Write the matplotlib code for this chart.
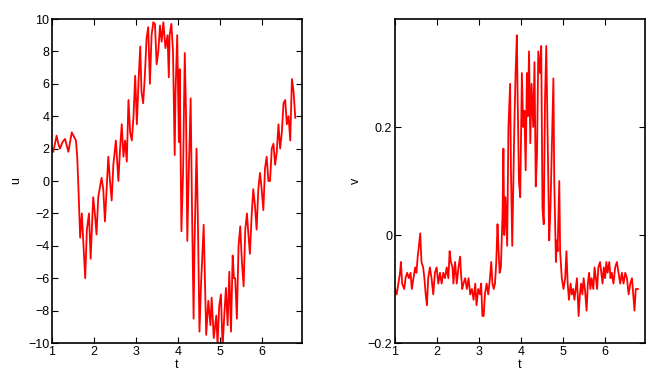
import matplotlib
matplotlib.use("Agg")
import matplotlib.pyplot as plt

# ---- left panel: u(t) ----
t_u = [1.00, 1.03, 1.11, 1.15, 1.19, 1.25, 1.31, 1.35, 1.39, 1.43, 1.47, 1.51, 1.57, 1.60,
       1.63, 1.67, 1.71, 1.75, 1.79, 1.83, 1.88, 1.92, 1.98, 2.02, 2.06, 2.10, 2.18, 2.22,
       2.26, 2.34, 2.38, 2.42, 2.46, 2.52, 2.58, 2.62, 2.66, 2.70, 2.74, 2.78, 2.82, 2.86,
       2.90, 2.94, 2.98, 3.02, 3.06, 3.10, 3.13, 3.17, 3.21, 3.25, 3.29, 3.33, 3.37, 3.41,
       3.45, 3.49, 3.53, 3.57, 3.61, 3.65, 3.70, 3.75, 3.78, 3.80, 3.84, 3.88, 3.92, 3.94,
       3.98, 4.02, 4.04, 4.08, 4.12, 4.16, 4.19, 4.22, 4.25, 4.30, 4.33, 4.37, 4.39, 4.44,
       4.47, 4.51, 4.55, 4.61, 4.65, 4.67, 4.72, 4.77, 4.80, 4.85, 4.91, 4.94, 4.98, 5.02,
       5.06, 5.10, 5.14, 5.18, 5.22, 5.26, 5.30, 5.33, 5.36, 5.40, 5.44, 5.48, 5.52, 5.56,
       5.60, 5.64, 5.68, 5.71, 5.75, 5.79, 5.83, 5.87, 5.91, 5.95, 5.99, 6.03, 6.07, 6.11,
       6.15, 6.19, 6.23, 6.27, 6.31, 6.35, 6.39, 6.43, 6.47, 6.51, 6.55, 6.59, 6.63, 6.67,
       6.71, 6.75, 6.79]
u_vals = [2.0, 1.8, 2.8, 2.3, 2.0, 2.4, 2.6, 2.2, 1.8, 2.4, 3.0, 2.8, 2.5, 1.5,
          -0.5, -3.5, -2.0, -4.0, -6.0, -3.0, -2.0, -4.8, -1.0, -2.0, -3.3, -1.0, 0.2, -0.5,
          -2.5, 1.5, 0.0, -1.2, 1.0, 2.5, 0.0, 2.0, 3.5, 1.5, 2.5, 1.2, 5.0, 3.0,
          2.5, 4.0, 6.5, 3.5, 6.2, 8.3, 5.5, 4.8, 6.5, 8.8, 9.5, 6.0, 9.0, 9.8,
          9.7, 7.2, 8.0, 9.6, 8.6, 9.8, 8.2, 9.0, 6.4, 9.0, 9.7, 8.0, 1.6, 5.5,
          9.0, 2.4, 6.9, -3.1, 0.6, 7.9, 4.1, -3.7, 0.0, 5.1, -1.3, -8.5, -4.2, 2.0,
          -2.1, -9.3, -6.2, -2.7, -7.2, -9.5, -7.4, -8.9, -7.2, -9.7, -8.3, -10.1, -7.7, -7.0,
          -10.3, -8.3, -6.6, -8.9, -5.6, -9.3, -4.6, -6.0, -6.0, -8.5, -4.0, -2.8, -5.0, -6.5,
          -3.0, -2.0, -3.5, -4.5, -2.2, -0.5, -1.5, -3.0, -0.5, 0.5, -0.5, -1.8, 0.8, 1.5,
          0.0, 0.0, 2.0, 2.3, 1.0, 1.8, 3.5, 2.0, 3.0, 4.8, 5.0, 3.5, 4.0, 2.5,
          6.3, 5.5, 3.9]

# ---- right panel: v(t) ----
t_v = [1.00, 1.04, 1.08, 1.12, 1.14, 1.17, 1.22, 1.25, 1.29, 1.33, 1.37, 1.40, 1.44, 1.48,
       1.51, 1.54, 1.57, 1.60, 1.63, 1.67, 1.70, 1.73, 1.76, 1.79, 1.83, 1.87, 1.91, 1.95,
       1.99, 2.03, 2.07, 2.11, 2.15, 2.19, 2.23, 2.27, 2.30, 2.33, 2.37, 2.39, 2.43, 2.47,
       2.51, 2.55, 2.57, 2.60, 2.63, 2.67, 2.71, 2.75, 2.79, 2.83, 2.87, 2.91, 2.94, 2.98,
       3.02, 3.05, 3.08, 3.11, 3.14, 3.18, 3.22, 3.26, 3.29, 3.32, 3.35, 3.38, 3.41, 3.44,
       3.46, 3.49, 3.52, 3.56, 3.58, 3.60, 3.63, 3.67,
       3.70, 3.74, 3.76, 3.79, 3.84, 3.87, 3.90, 3.92, 3.95, 3.98, 4.02, 4.05, 4.08, 4.11,
       4.14, 4.16, 4.19, 4.22, 4.25, 4.29, 4.32, 4.35, 4.38, 4.41, 4.45, 4.48, 4.51, 4.54,
       4.57, 4.60, 4.64, 4.67, 4.70, 4.73, 4.77, 4.79, 4.83, 4.85, 4.87, 4.91, 4.93, 4.97,
       5.01, 5.05, 5.08, 5.11, 5.14, 5.18, 5.21, 5.24, 5.27, 5.30, 5.33, 5.37, 5.40, 5.43,
       5.46, 5.49, 5.52, 5.56, 5.59, 5.62, 5.65, 5.68, 5.72, 5.75, 5.78, 5.81, 5.84, 5.88,
       5.91, 5.94, 5.97, 6.00, 6.03, 6.06, 6.10, 6.13, 6.16, 6.20, 6.24, 6.28, 6.32, 6.36,
       6.40, 6.44, 6.48, 6.52, 6.56, 6.60, 6.64, 6.68, 6.70, 6.73, 6.78]
v_vals = [-0.10, -0.11, -0.09, -0.07, -0.05, -0.09, -0.10, -0.08, -0.07, -0.08, -0.07, -0.10, -0.08, -0.06,
          -0.07, -0.04, -0.02, 0.003, -0.05, -0.06, -0.08, -0.11, -0.13, -0.08, -0.06, -0.08, -0.11, -0.07,
          -0.06, -0.09, -0.07, -0.09, -0.07, -0.08, -0.06, -0.08, -0.03, -0.05, -0.06, -0.09, -0.05, -0.09,
          -0.06, -0.04, -0.07, -0.10, -0.09, -0.08, -0.10, -0.08, -0.11, -0.10, -0.12, -0.09, -0.13, -0.10,
          -0.11, -0.09, -0.15, -0.15, -0.11, -0.09, -0.11, -0.08, -0.05, -0.09, -0.10, -0.09, -0.05, 0.02,
          -0.02, -0.07, -0.06, 0.04, 0.16, 0.0, 0.07, -0.02,
          0.20, 0.28, 0.12, -0.02, 0.20, 0.30, 0.37, 0.25, 0.10, 0.07, 0.30, 0.20, 0.23, 0.12,
          0.30, 0.22, 0.34, 0.17, 0.28, 0.20, 0.32, 0.09, 0.15, 0.34, 0.30, 0.35, 0.05, 0.02,
          0.25, 0.35, 0.15, -0.01, 0.05, 0.15, 0.29, 0.10, -0.05, -0.01, -0.03, 0.10, -0.03, -0.08,
          -0.10, -0.08, -0.03, -0.09, -0.12, -0.09, -0.11, -0.10, -0.12, -0.10, -0.08, -0.15, -0.11, -0.09,
          -0.11, -0.08, -0.10, -0.14, -0.09, -0.07, -0.10, -0.08, -0.10, -0.06, -0.08, -0.10, -0.06, -0.05,
          -0.07, -0.09, -0.06, -0.08, -0.05, -0.07, -0.05, -0.08, -0.07, -0.09, -0.06, -0.05, -0.07, -0.09,
          -0.07, -0.09, -0.07, -0.08, -0.11, -0.09, -0.08, -0.12, -0.14, -0.10, -0.10]

x_ticks = [1, 2, 3, 4, 5, 6]
u_ticks = [-10, -8, -6, -4, -2, 0, 2, 4, 6, 8, 10]
v_ticks = [-0.2, 0, 0.2]
v_ticklabels = ["\u22120.2", "0", "0.2"]

plt.rcParams['font.family'] = ['Liberation Sans', 'DejaVu Sans']
plt.rcParams['axes.unicode_minus'] = True

fig = plt.figure(figsize=(6.62, 3.90), dpi=100)
W, H = 662, 390
ax1 = fig.add_axes([52 / W, (H - 343) / H, 250 / W, 324 / H])
ax2 = fig.add_axes([395 / W, (H - 343) / H, 250 / W, 324 / H])

ax1.plot(t_u, u_vals, color=(1, 0, 0), lw=1.3)
ax1.set_xlim(1, 6.95)
ax1.set_ylim(-10, 10)
ax1.set_yticks(u_ticks)
ax1.set_ylabel("u", fontsize=9, labelpad=4)

ax2.plot(t_v, v_vals, color=(1, 0, 0), lw=1.3)
ax2.set_xlim(1, 6.95)
ax2.set_ylim(-0.2, 0.4)
ax2.set_yticks(v_ticks)
ax2.set_yticklabels(v_ticklabels)
ax2.set_ylabel("v", fontsize=9, labelpad=4)

for ax in (ax1, ax2):
    ax.set_xticks(x_ticks)
    ax.set_xlabel("t", fontsize=9, labelpad=1)
    ax.tick_params(direction='in', top=True, right=True, length=4, width=0.8,
                   labelsize=9, pad=2)
    for s in ax.spines.values():
        s.set_linewidth(1.2)

fig.savefig("out.png", dpi=100)
